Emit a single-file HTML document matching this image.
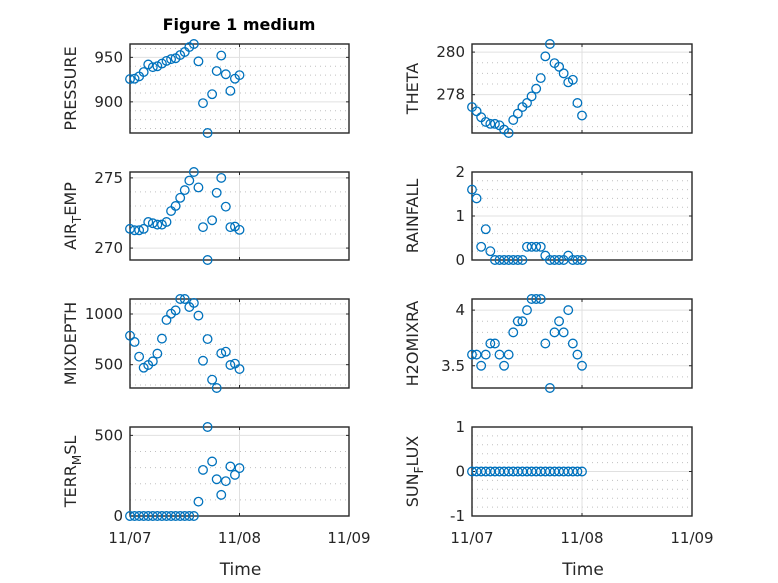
<!DOCTYPE html>
<html><head><meta charset="utf-8">
<style>
html,body{margin:0;padding:0;background:#fff;}
svg{display:block;font-family:"DejaVu Sans","Liberation Sans",sans-serif;}
</style></head>
<body>
<svg id="fig" width="778" height="583" viewBox="0 0 778 583">
<rect x="0" y="0" width="778" height="583" fill="#fff"/>
<text x="239" y="30" text-anchor="middle" font-size="16" font-weight="bold" fill="#000">Figure 1 medium</text>
</svg>
<script>
const hours = [0,1,2,3,4,5,6,7,8,9,10,11,12,13,14,15,16,17,18,19,20,21,22,23,24];
const xTickLabels = ["11/07","11/08","11/09"];
const pressure = [925.6,926,928.6,933.5,942,939,940,943,946,948,949,952.6,956,961.6,965,945.5,898.5,865,908.6,934.6,952,931,912.4,926,930];
const theta = [277.42,277.22,276.94,276.72,276.63,276.63,276.56,276.36,276.2,276.81,277.11,277.42,277.61,277.92,278.28,278.78,279.8,280.38,279.48,279.31,279.0,278.58,278.7,277.61,277.02];
const airTemp = [271.37,271.27,271.27,271.37,271.86,271.77,271.67,271.67,271.86,272.64,273.0,273.58,274.13,274.81,275.42,274.32,271.49,269.15,271.98,273.94,275.0,272.95,271.49,271.53,271.3];
const rainfall = [1.6,1.4,0.3,0.7,0.2,0,0,0,0,0,0,0,0.3,0.3,0.3,0.3,0.1,0,0,0,0,0.1,0,0,0];
const mixDepth = [786,724,579,470,497,533,609,757,941,1003,1036,1148,1148,1069,1109,984,539,753,352,270,612,628,497,510,457];
const h2oMix = [3.6,3.6,3.5,3.6,3.7,3.7,3.6,3.5,3.6,3.8,3.9,3.9,4.0,4.1,4.1,4.1,3.7,3.3,3.8,3.9,3.8,4.0,3.7,3.6,3.5];
const terrMsl = [0,0,0,0,0,0,0,0,0,0,0,0,0,0,0,89,286,552,338,228,131,216,307,255,297];
const sunFlux = [0,0,0,0,0,0,0,0,0,0,0,0,0,0,0,0,0,0,0,0,0,0,0,0,0];

const NS = "http://www.w3.org/2000/svg";
const svg = document.getElementById("fig");
function mk(tag, attrs, parent){
  const e = document.createElementNS(NS, tag);
  for (const k in attrs) e.setAttribute(k, attrs[k]);
  (parent||svg).appendChild(e);
  return e;
}
const panels = [
  {name:"pressure", label:["PRESSURE"], data:pressure, ylim:[865,965], major:[900,950], minor:10, x0:130, x1:349, y0:44, y1:133},
  {name:"theta", label:["THETA"], data:theta, ylim:[276.2,280.38], major:[278,280], minor:0.5, x0:472, x1:692, y0:44, y1:133},
  {name:"air-temp", label:["AIR","T","EMP"], data:airTemp, ylim:[269.15,275.42], major:[270,275], minor:1, x0:130, x1:349, y0:172, y1:260},
  {name:"rainfall", label:["RAINFALL"], data:rainfall, ylim:[0,2], major:[0,1,2], minor:0.2, x0:472, x1:692, y0:172, y1:260},
  {name:"mixdepth", label:["MIXDEPTH"], data:mixDepth, ylim:[270,1148], major:[500,1000], minor:100, x0:130, x1:349, y0:299, y1:388},
  {name:"h2omixra", label:["H2OMIXRA"], data:h2oMix, ylim:[3.3,4.1], major:[3.5,4], minor:0.1, x0:472, x1:692, y0:299, y1:388},
  {name:"terr-msl", label:["TERR","M","SL"], data:terrMsl, ylim:[0,552], major:[0,500], minor:100, x0:130, x1:349, y0:427, y1:516},
  {name:"sun-flux", label:["SUN","F","LUX"], data:sunFlux, ylim:[-1,1], major:[-1,0,1], minor:0.2, x0:472, x1:692, y0:427, y1:516}
];
panels.forEach((p, idx) => {
  const g = mk("g", {});
  
  
  const xs = h => p.x0 + (h/48)*(p.x1-p.x0);
  const ys = v => p.y1 - (v-p.ylim[0])/(p.ylim[1]-p.ylim[0])*(p.y1-p.y0);
  const start = Math.ceil(p.ylim[0]/p.minor - 1e-6);
  for (let k = start; k*p.minor <= p.ylim[1]+1e-9; k++) {
    const v = k*p.minor;
    if (p.major.some(m => Math.abs(m-v) < 1e-6)) continue;
    const y = ys(v);
    const l = mk("line", {x1:p.x0, x2:p.x1, y1:y, y2:y, stroke:"#c0c0c0", "stroke-width":1, "stroke-dasharray":"1,4"}, g);
    
    
  }
  p.major.forEach(v => {
    const y = ys(v);
    const l = mk("line", {x1:p.x0, x2:p.x1, y1:y, y2:y, stroke:"#e0e0e0", "stroke-width":1}, g);
    
    
    const t = mk("text", {x:p.x0-7, y:y+5, "text-anchor":"end", "font-size":15, fill:"#262626"}, g);
    t.textContent = String(v);
    
    
    [p.x0, p.x1].forEach((xx, si) => {
      const tk = mk("line", {x1:xx, x2:si? xx-3: xx+3, y1:y, y2:y, stroke:"#262626", "stroke-width":1}, g);
      
      
    });
  });
  const xm = xs(24);
  const vl = mk("line", {x1:xm, x2:xm, y1:p.y0, y2:p.y1, stroke:"#e0e0e0", "stroke-width":1}, g);
  
  
  [0,24,48].forEach(h => {
    const x = xs(h);
    const tk = mk("line", {x1:x, x2:x, y1:p.y1, y2:p.y1-3, stroke:"#262626"}, g);
    
    
    const tk2 = mk("line", {x1:x, x2:x, y1:p.y0, y2:p.y0+3, stroke:"#262626"}, g);
    
    
  });
  const fr = mk("rect", {x:p.x0, y:p.y0, width:p.x1-p.x0, height:p.y1-p.y0, fill:"none", stroke:"#262626", "stroke-width":1.4}, g);
  
  
  const lx = p.x0 < 300 ? 76 : 418;
  const cy = (p.y0+p.y1)/2;
  const yl = mk("text", {x:0, y:0, transform:`translate(${lx},${cy}) rotate(-90)`, "text-anchor":"middle", "font-size":16, fill:"#262626"}, g);
  
  
  if (p.label.length === 1) { yl.textContent = p.label[0]; }
  else {
    const a = mk("tspan", {}, yl); a.textContent = p.label[0];
    const b = mk("tspan", {dy:5, "font-size":12}, yl); b.textContent = p.label[1];
    const c = mk("tspan", {dy:-5}, yl); c.textContent = p.label[2];
  }
  p.data.forEach((v, i) => {
    const c = mk("circle", {cx:xs(hours[i]), cy:ys(v), r:4.3, fill:"none", stroke:"#0072BD", "stroke-width":1.3}, g);
    
    
  });
  if (idx >= 6) {
    [0,24,48].forEach((h, j) => {
      const t = mk("text", {x:xs(h), y:543, "text-anchor":"middle", "font-size":15, fill:"#262626"}, g);
      t.textContent = xTickLabels[j];
      
      
    });
    const xt = mk("text", {x:(p.x0+p.x1)/2+1, y:575, "text-anchor":"middle", "font-size":17, fill:"#262626"}, g);
    xt.textContent = "Time";
    
    
  }
});
</script>
</body></html>
